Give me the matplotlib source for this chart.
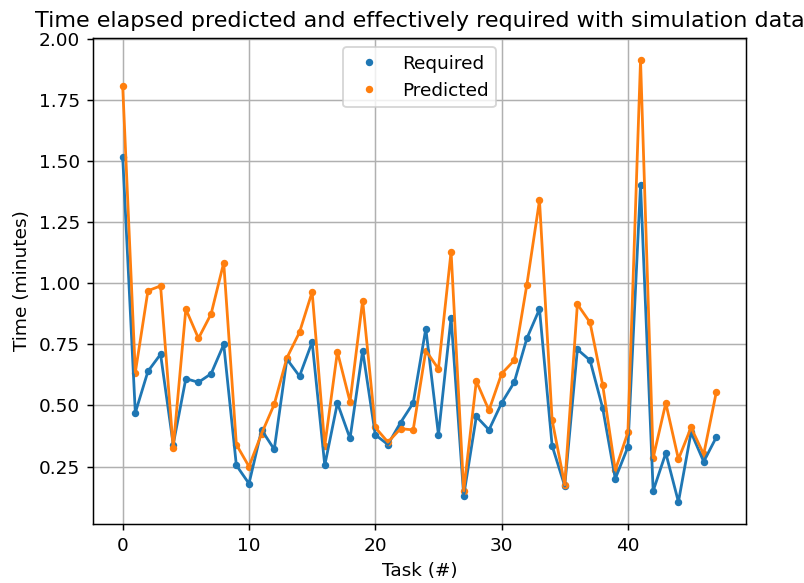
import numpy as np
import matplotlib
matplotlib.use('Agg')
import matplotlib.pyplot as plt

required = [1.52, 0.47, 0.64, 0.71, 0.34, 0.61, 0.595, 0.63, 0.75, 0.255,
            0.18, 0.40, 0.32, 0.69, 0.62, 0.76, 0.255, 0.51, 0.365, 0.725,
            0.38, 0.34, 0.43, 0.51, 0.815, 0.38, 0.86, 0.13, 0.455, 0.40,
            0.51, 0.595, 0.775, 0.895, 0.335, 0.17, 0.73, 0.685, 0.49, 0.20,
            0.33, 1.405, 0.15, 0.305, 0.105, 0.39, 0.27, 0.37]
predicted = [1.81, 0.635, 0.97, 0.99, 0.325, 0.895, 0.775, 0.875, 1.085, 0.34,
             0.25, 0.385, 0.505, 0.695, 0.80, 0.965, 0.335, 0.72, 0.515, 0.93,
             0.41, 0.35, 0.405, 0.40, 0.725, 0.65, 1.13, 0.15, 0.60, 0.48,
             0.63, 0.685, 0.995, 1.34, 0.44, 0.175, 0.915, 0.84, 0.585, 0.235,
             0.39, 1.915, 0.285, 0.51, 0.28, 0.41, 0.30, 0.555]
tasks = np.arange(len(required))

dpi = 133.33
fig = plt.figure(figsize=(804 / dpi, 583 / dpi), dpi=dpi)
ax = fig.add_axes([93 / 804, (583 - 524) / 583, (746 - 93) / 804, (524 - 38) / 583])

ax.plot(tasks, required, '.', color='C0', label='Required')
ax.plot(tasks, predicted, '.', color='C1', label='Predicted')
ax.plot(tasks, required, color='C0')
ax.plot(tasks, predicted, color='C1')

ax.set_title('Time elapsed predicted and effectively required with simulation data')
ax.set_xlabel('Task (#)')
ax.set_ylabel('Time (minutes)')
ax.grid(True)
ax.legend(loc='upper center')

fig.savefig('out.png', dpi=dpi)
